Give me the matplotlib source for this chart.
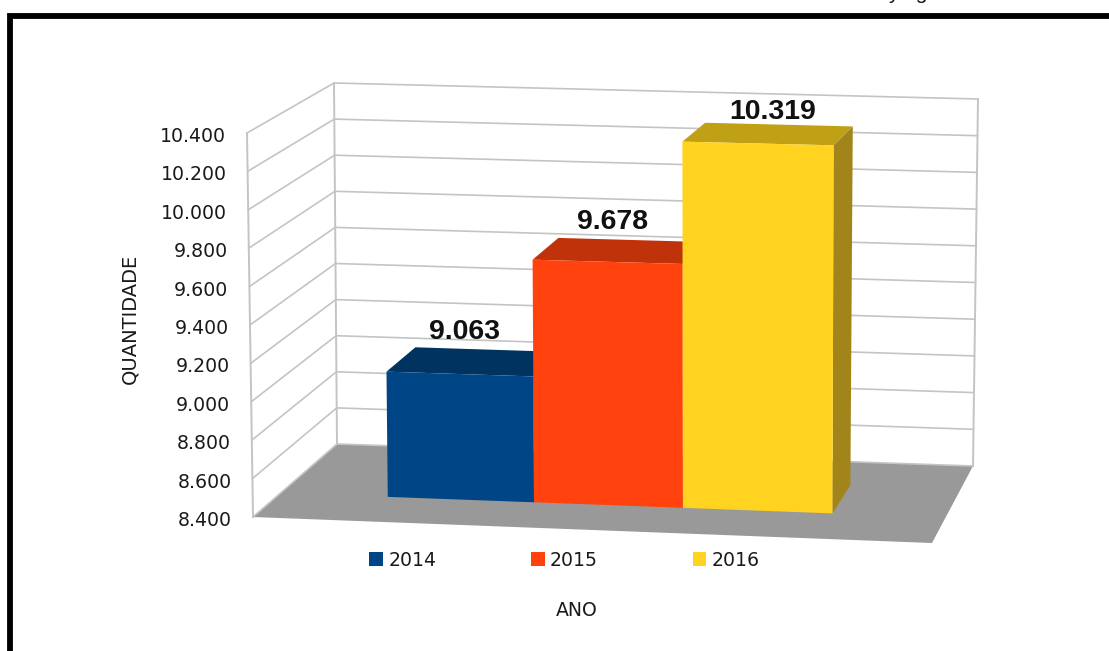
import matplotlib.pyplot as plt
import numpy as np
from matplotlib.patches import Patch, Polygon

years = ["2014", "2015", "2016"]
quantidade = [9063, 9678, 10319]
ticks = [8400, 8600, 8800, 9000, 9200, 9400, 9600, 9800, 10000, 10200, 10400]

front_colors = ["#004586", "#ff420e", "#ffd320"]
top_colors = ["#00335f", "#c0330a", "#c0a015"]
side_colors = ["#00294d", "#9a2a08", "#a1851a"]
label_dx = [5, 5, 15]
label_dy = [42, 40, 31]
bar_edges = [0.161, 0.381, 0.605, 0.83]

GRID = "#c4c4c4"
FLOOR = "#999999"
TEXT = "#1a1a1a"

# pixel corners of the 3d box, indexed as (u, level, depth)
corners = {
    (0, 0, 0): (253, 517), (1, 0, 0): (932, 543),
    (0, 1, 0): (247, 133), (1, 1, 0): (933, 149),
    (0, 0, 1): (337, 444), (1, 0, 1): (973, 466),
    (0, 1, 1): (334, 83), (1, 1, 1): (978, 99),
}


def project(u, val, d):
    # trilinear blend of the box corners, val is in axis units
    v = (val - ticks[0]) / (ticks[-1] - ticks[0])
    p = np.zeros(2)
    for (cu, cv, cd), xy in corners.items():
        w = (u if cu else 1 - u) * (v if cv else 1 - v) * (d if cd else 1 - d)
        p += w * np.array(xy)
    return p


fig = plt.figure(figsize=(11.09, 6.51), dpi=100)
ax = fig.add_axes([0, 0, 1, 1])
ax.set_xlim(0, 1109)
ax.set_ylim(651, 0)
ax.axis("off")

low, high = ticks[0], ticks[-1]

# floor
floor = [project(0, low, 0), project(1, low, 0), project(1, low, 1), project(0, low, 1)]
ax.add_patch(Polygon(floor, closed=True, fc=FLOOR, ec="none", zorder=1))

# walls
for t in ticks:
    a, b, c = project(0, t, 0), project(0, t, 1), project(1, t, 1)
    ax.plot([a[0], b[0], c[0]], [a[1], b[1], c[1]], color=GRID, lw=1.2, zorder=2)
    label = f"{t:,}".replace(",", ".")
    ax.text(a[0] - 21, a[1] + 3.5, label, ha="right", va="center", fontsize=13.6, color=TEXT)

for u, d in [(0, 0), (0, 1), (1, 1)]:
    a, b = project(u, low, d), project(u, high, d)
    ax.plot([a[0], b[0]], [a[1], b[1]], color=GRID, lw=1.4, zorder=2)

# bars, left to right so each one covers the side of the previous
d1, d2 = 0.33, 0.70
for i, val in enumerate(quantidade):
    u0, u1 = bar_edges[i], bar_edges[i + 1]
    z = 3 + i
    front = [project(u0, low, d1), project(u1, low, d1), project(u1, val, d1), project(u0, val, d1)]
    side = [project(u1, low, d1), project(u1, low, d2), project(u1, val, d2), project(u1, val, d1)]
    top = [project(u0, val, d1), project(u1, val, d1), project(u1, val, d2), project(u0, val, d2)]
    ax.add_patch(Polygon(top, closed=True, fc=top_colors[i], ec="none", zorder=z))
    ax.add_patch(Polygon(side, closed=True, fc=side_colors[i], ec="none", zorder=z))
    ax.add_patch(Polygon(front, closed=True, fc=front_colors[i], ec="none", zorder=z))

    mid = project((u0 + u1) / 2, val, d1)
    ax.text(mid[0] + label_dx[i], mid[1] - label_dy[i], f"{val:,}".replace(",", "."),
            ha="center", va="center", fontsize=20.5, fontweight="bold",
            family="Liberation Sans", color="#111111", zorder=10)

# legend and axis titles
handles = [Patch(fc=c, ec="none", label=y) for c, y in zip(front_colors, years)]
ax.legend(handles=handles, ncol=3, loc="center", bbox_to_anchor=(564.5, 560),
          bbox_transform=ax.transData, frameon=False, fontsize=13.6, labelcolor=TEXT,
          handlelength=0.74, handleheight=0.74, handletextpad=0.28,
          columnspacing=5.0, borderpad=0, borderaxespad=0)
ax.text(577, 610, "ANO", ha="center", va="center", fontsize=13.6, color=TEXT)
ax.text(130, 319, "QUANTIDADE", ha="center", va="center", rotation=90, fontsize=14.0, color=TEXT)

# outer frame, open on the right and bottom
ax.plot([10, 10, 1109], [651, 15.5, 15.5], color="black", lw=4.2, solid_joinstyle="miter", zorder=11)

# line of text cut off by the top edge
ax.text(908, -1, "y   g", ha="center", va="baseline", fontsize=15, family="Liberation Sans",
        color="#111111", clip_on=True)

fig.savefig("out.png", dpi=100)
